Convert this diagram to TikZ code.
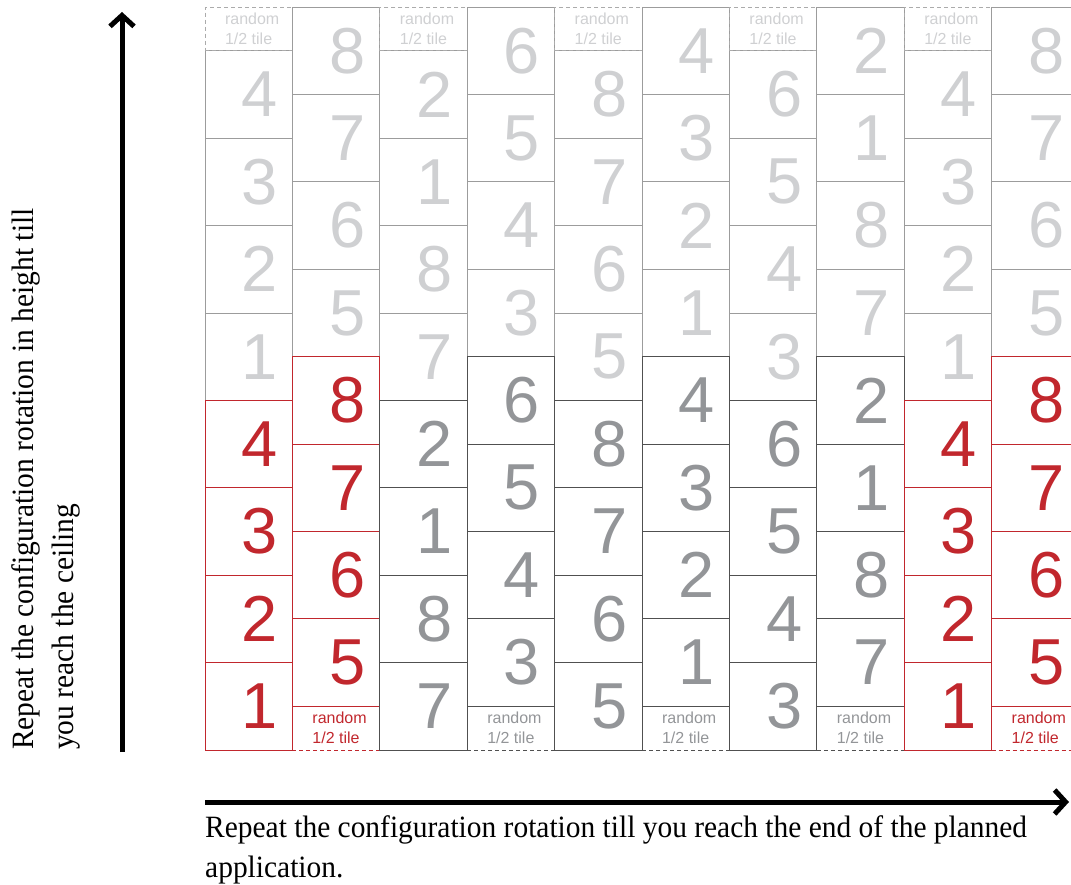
\documentclass[tikz,border=0pt]{standalone}
\usepackage{fontspec}
\setmainfont{Liberation Serif}
\newfontfamily\tilefont{Liberation Sans}
\newfontfamily\notefont[FakeStretch=0.95]{Liberation Serif}
\usepackage{tikz}
\usetikzlibrary{arrows.meta}

\definecolor{tilered}{HTML}{C1272D}
\definecolor{tiledark}{HTML}{939598}
\definecolor{tilelight}{HTML}{CFD0D2}
\definecolor{linedark}{HTML}{505050}
\definecolor{linelight}{HTML}{9C9C9C}
\definecolor{dashlight}{HTML}{ABABAB}

\begin{document}
\begin{tikzpicture}[
        x=1pt, y=-1pt,
        tile/.style={draw, line width=0.9pt, minimum width=87.4pt, minimum height=87.4pt, inner sep=0pt, outer sep=0pt, font=\tilefont\fontsize{65}{65}\selectfont},
        halftile/.style={draw, line width=0.9pt, dash pattern=on 4pt off 3pt, minimum width=87.4pt, minimum height=43.7pt, inner sep=0pt, outer sep=0pt, align=left, font=\tilefont\fontsize{16}{20}\selectfont},
        note/.style={inner sep=0pt, align=left, font=\notefont\fontsize{31}{39.5}\selectfont},
        axis/.style={line width=5pt, -{Straight Barb[length=11pt, width=24pt]}},
    ]
    \useasboundingbox (0,0) rectangle (1071,885);
    \clip (0,0) rectangle (1071,885);
    % UPPER (REPEATED) TILES
    \foreach \c/\st in {0/1,1/5,2/7,3/3,4/5,5/1,6/3,7/7,8/1,9/5}{
        \pgfmathtruncatemacro\odd{mod(\c,2)}
        \pgfmathsetmacro\xc{248.7+\c*87.4}
        \foreach \k in {4,...,7}{
            \pgfmathsetmacro\yc{750-\odd*43.7-(\k+0.5)*87.4}
            \pgfmathtruncatemacro\num{mod(\st-1+\k-4,8)+1}
            \node[tile, draw=linelight, text=tilelight] (t\c-\k) at (\xc,\yc) {\hspace*{22pt}\num};
        }
        \ifnum\odd=0
            \node[halftile, draw=dashlight, text=tilelight] (h\c) at (\xc,28.95) {\hspace*{7pt}random\\\hspace*{7pt}1/2 tile};
        \fi
    }
    % CONFIGURATION TILES
    \foreach \c/\st/\fg/\ln in {0/1/tilered/tilered,1/5/tilered/tilered,2/7/tiledark/linedark,3/3/tiledark/linedark,4/5/tiledark/linedark,5/1/tiledark/linedark,6/3/tiledark/linedark,7/7/tiledark/linedark,8/1/tilered/tilered,9/5/tilered/tilered}{
        \pgfmathtruncatemacro\odd{mod(\c,2)}
        \pgfmathsetmacro\xc{248.7+\c*87.4}
        \foreach \k in {0,...,3}{
            \pgfmathsetmacro\yc{750-\odd*43.7-(\k+0.5)*87.4}
            \pgfmathtruncatemacro\num{mod(\st-1+\k,8)+1}
            \node[tile, draw=\ln, text=\fg] (t\c-\k) at (\xc,\yc) {\hspace*{22pt}\num};
        }
        \ifnum\odd=1
            \node[halftile, draw=\ln, text=\fg] (h\c) at (\xc,728.15) {\hspace*{7pt}random\\\hspace*{7pt}1/2 tile};
        \fi
    }
    % ARROWS
    \coordinate (vbot) at (122,752);
    \coordinate (vtop) at (122,12);
    \coordinate (hleft) at (205,802);
    \coordinate (hright) at (1069,802);
    \draw[axis] (vbot) -- (vtop);
    \draw[axis] (hleft) -- (hright);
    % NOTES
    \node[note, rotate=90, anchor=base west] (vnote) at (73,750) {Repeat the configuration rotation in height till\\you reach the ceiling};
    \node[note, anchor=base west] (hnote) at (205,877) {Repeat the configuration rotation till you reach the end of the planned\\application.};
\end{tikzpicture}
\end{document}
